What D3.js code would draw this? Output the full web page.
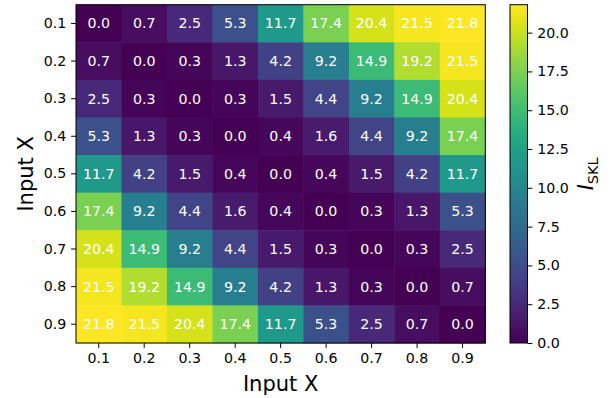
<!DOCTYPE html>
<html>
<head>
<meta charset="utf-8">
<script src="https://cdn.jsdelivr.net/npm/d3@7"></script>
<style>
  body { margin: 0; background: #fff; }
  text { font-family: "DejaVu Sans", sans-serif; }
</style>
</head>
<body>
<div id="chart"></div>
<script>
var xLabels = ["0.1", "0.2", "0.3", "0.4", "0.5", "0.6", "0.7", "0.8", "0.9"];
var yLabels = ["0.1", "0.2", "0.3", "0.4", "0.5", "0.6", "0.7", "0.8", "0.9"];
var values = [
  [0.0, 0.7, 2.5, 5.3, 11.7, 17.4, 20.4, 21.5, 21.8],
  [0.7, 0.0, 0.3, 1.3, 4.2, 9.2, 14.9, 19.2, 21.5],
  [2.5, 0.3, 0.0, 0.3, 1.5, 4.4, 9.2, 14.9, 20.4],
  [5.3, 1.3, 0.3, 0.0, 0.4, 1.6, 4.4, 9.2, 17.4],
  [11.7, 4.2, 1.5, 0.4, 0.0, 0.4, 1.5, 4.2, 11.7],
  [17.4, 9.2, 4.4, 1.6, 0.4, 0.0, 0.3, 1.3, 5.3],
  [20.4, 14.9, 9.2, 4.4, 1.5, 0.3, 0.0, 0.3, 2.5],
  [21.5, 19.2, 14.9, 9.2, 4.2, 1.3, 0.3, 0.0, 0.7],
  [21.8, 21.5, 20.4, 17.4, 11.7, 5.3, 2.5, 0.7, 0.0]
];
var cbTicks = [0.0, 2.5, 5.0, 7.5, 10.0, 12.5, 15.0, 17.5, 20.0];

var width = 613, height = 398;
var svg = d3.select("#chart").append("svg")
  .attr("width", width).attr("height", height);

var pLeft = 76, pTop = 4.7, pRight = 485.3, pBottom = 343;
var tickFont = "14.2px";

var x = d3.scaleBand().domain(xLabels).range([pLeft, pRight]);
var y = d3.scaleBand().domain(yLabels).range([pTop, pBottom]);
var vmax = d3.max(values, function(r){ return d3.max(r); });
var color = d3.scaleSequential(d3.interpolateViridis).domain([0, vmax]);

var cells = [];
values.forEach(function(row, i){
  row.forEach(function(v, j){ cells.push({r: yLabels[i], c: xLabels[j], v: v}); });
});

svg.append("g").selectAll("rect")
  .data(cells).enter().append("rect")
  .attr("x", function(d){ return x(d.c); })
  .attr("y", function(d){ return y(d.r); })
  .attr("width", x.bandwidth() + 0.5)
  .attr("height", y.bandwidth() + 0.5)
  .attr("fill", function(d){ return color(d.v); });

svg.append("g").selectAll("text")
  .data(cells).enter().append("text")
  .attr("x", function(d){ return x(d.c) + x.bandwidth() / 2; })
  .attr("y", function(d){ return y(d.r) + y.bandwidth() / 2; })
  .attr("text-anchor", "middle")
  .attr("dominant-baseline", "central")
  .attr("fill", "#fff")
  .style("font-size", tickFont)
  .text(function(d){ return d.v.toFixed(1); });

svg.append("rect")
  .attr("x", pLeft).attr("y", pTop)
  .attr("width", pRight - pLeft).attr("height", pBottom - pTop)
  .attr("fill", "none").attr("stroke", "#000").attr("stroke-width", 1);

var xAxis = svg.append("g")
  .attr("transform", `translate(0,${pBottom})`)
  .call(d3.axisBottom(x).tickSize(4.9).tickPadding(4.9));
var yAxis = svg.append("g")
  .attr("transform", `translate(${pLeft},0)`)
  .call(d3.axisLeft(y).tickSize(4.9).tickPadding(4.9));
[xAxis, yAxis].forEach(function(a){
  a.select(".domain").remove();
  a.selectAll("text").style("font-size", tickFont).style("font-family", "DejaVu Sans").attr("fill", "#000");
  a.selectAll("line").attr("stroke", "#000").attr("stroke-width", 1);
});

svg.append("text")
  .attr("x", (pLeft + pRight) / 2).attr("y", 391)
  .attr("text-anchor", "middle")
  .style("font-size", "21px")
  .text("Input X");
svg.append("text")
  .attr("transform", `translate(32.5,${(pTop + pBottom) / 2}) rotate(-90)`)
  .attr("text-anchor", "middle")
  .style("font-size", "21px")
  .text("Input X");

// colorbar
var cbLeft = 510, cbRight = 527.5;
var cy = d3.scaleLinear().domain([0, vmax]).range([pBottom, pTop]);
var defs = svg.append("defs");
var grad = defs.append("linearGradient").attr("id", "cbgrad")
  .attr("x1", "0").attr("y1", "1").attr("x2", "0").attr("y2", "0");
d3.range(0, 1.0001, 0.05).forEach(function(t){
  grad.append("stop").attr("offset", t).attr("stop-color", d3.interpolateViridis(t));
});
svg.append("rect")
  .attr("x", cbLeft).attr("y", pTop)
  .attr("width", cbRight - cbLeft).attr("height", pBottom - pTop)
  .attr("fill", "url(#cbgrad)")
  .attr("stroke", "#000").attr("stroke-width", 1);

var cbAxis = svg.append("g")
  .attr("transform", `translate(${cbRight},0)`)
  .call(d3.axisRight(cy).tickValues(cbTicks).tickFormat(d3.format(".1f")).tickSize(4.9).tickPadding(4.9));
cbAxis.select(".domain").remove();
cbAxis.selectAll("text").style("font-size", tickFont).style("font-family", "DejaVu Sans").attr("fill", "#000");
cbAxis.selectAll("line").attr("stroke", "#000");

var lab = svg.append("text")
  .attr("transform", `translate(593,${(pTop + pBottom) / 2}) rotate(-90)`)
  .attr("text-anchor", "middle")
  .style("font-size", "21px");
lab.append("tspan").style("font-style", "italic").style("font-family", "DejaVu Sans").text("I");
lab.append("tspan").attr("dy", "4.5").style("font-size", "14.5px").text("SKL");
</script>
</body>
</html>
